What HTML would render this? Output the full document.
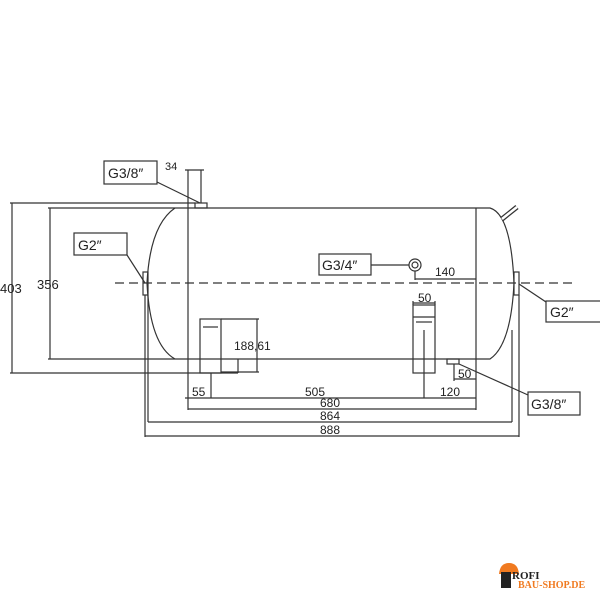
<!DOCTYPE html>
<html><head><style>body{margin:0;background:#fff}svg{display:block}</style></head><body>
<svg width="600" height="600" viewBox="0 0 600 600" xmlns="http://www.w3.org/2000/svg" font-family="Liberation Sans, sans-serif" font-size="13" fill="none" stroke="#333" stroke-width="1.2">
<!-- tank body -->
<line x1="175" y1="208" x2="476" y2="208"/>
<line x1="175" y1="359" x2="476" y2="359"/>
<path d="M175 208 Q150 225 147 283 Q150 345 175 359"/>
<path d="M476 208 L490 208 Q511 214 514 283 Q511 345 490 359 L476 359"/>
<line x1="476" y1="208" x2="476" y2="410"/>
<!-- hose -->
<line x1="502" y1="219" x2="517" y2="207" stroke-width="5" stroke="#333"/>
<line x1="502" y1="219" x2="517" y2="207" stroke-width="2.5" stroke="#fff"/>
<!-- centre line -->
<line x1="115" y1="283" x2="573" y2="283" stroke-dasharray="9,5"/>
<!-- flanges -->
<rect x="143" y="272" width="5" height="23"/>
<rect x="514" y="272" width="5" height="23"/>
<!-- top boss -->
<rect x="195" y="203" width="12" height="5"/>
<rect x="447" y="359" width="12" height="5"/>
<!-- outer dims -->
<line x1="10" y1="203" x2="195" y2="203"/>
<line x1="10" y1="373" x2="238" y2="373"/>
<line x1="12" y1="203" x2="12" y2="373"/>
<line x1="48" y1="208" x2="175" y2="208"/>
<line x1="48" y1="359" x2="175" y2="359"/>
<line x1="50" y1="208" x2="50" y2="359"/>
<!-- verticals -->
<line x1="188" y1="170" x2="188" y2="410"/>
<line x1="201" y1="170" x2="201" y2="203"/>
<line x1="185" y1="170" x2="204" y2="170"/>
<line x1="145" y1="295" x2="145" y2="437"/>
<line x1="148" y1="295" x2="148" y2="422"/>
<line x1="519" y1="295" x2="519" y2="437"/>
<line x1="512" y1="330" x2="512" y2="422"/>
<!-- horizontal dims -->
<line x1="185" y1="398" x2="476" y2="398"/>
<line x1="188" y1="409" x2="476" y2="409"/>
<line x1="148" y1="422" x2="512" y2="422"/>
<line x1="145" y1="436" x2="519" y2="436"/>
<!-- left foot -->
<rect x="200" y="319" width="21" height="54"/>
<line x1="203" y1="327" x2="218" y2="327"/>
<line x1="211" y1="373" x2="211" y2="398"/>
<line x1="221" y1="319" x2="259" y2="319"/>
<line x1="257" y1="319" x2="257" y2="372"/>
<line x1="238" y1="359" x2="238" y2="373"/>
<line x1="221" y1="372" x2="259" y2="372"/>
<!-- right foot -->
<rect x="413" y="305" width="22" height="68"/>
<line x1="413" y1="317" x2="435" y2="317"/>
<line x1="416" y1="322" x2="432" y2="322"/>
<line x1="424" y1="330" x2="424" y2="398"/>
<line x1="413" y1="305" x2="413" y2="301"/>
<line x1="435" y1="305" x2="435" y2="301"/>
<line x1="413" y1="303" x2="435" y2="303"/>
<!-- bottom boss dim -->
<line x1="454" y1="364" x2="454" y2="381"/>
<line x1="454" y1="379" x2="476" y2="379"/>
<!-- G3/4 -->
<circle cx="415" cy="265" r="6"/><circle cx="415" cy="265" r="3"/>
<line x1="371" y1="265" x2="409" y2="265"/>
<line x1="415" y1="271" x2="415" y2="280"/>
<line x1="415" y1="279" x2="476" y2="279"/>
<!-- labels -->
<rect x="104" y="161" width="53" height="23"/>
<line x1="157" y1="182" x2="200" y2="203"/>
<rect x="74" y="233" width="53" height="22"/>
<line x1="127" y1="255" x2="145" y2="283"/>
<rect x="319" y="254" width="52" height="21"/>
<rect x="546" y="301" width="60" height="21"/>
<line x1="519" y1="284" x2="546" y2="302"/>
<rect x="528" y="392" width="52" height="23"/>
<line x1="459" y1="364" x2="528" y2="395"/>
<g fill="#222" stroke="none">
<text x="108" y="178" font-size="14">G3/8″</text>
<text x="78" y="250" font-size="14">G2″</text>
<text x="322" y="270" font-size="14">G3/4″</text>
<text x="550" y="317" font-size="14">G2″</text>
<text x="531" y="409" font-size="14">G3/8″</text>
<text x="165" y="170" font-size="11">34</text>
<text x="0" y="293">403</text>
<text x="37" y="289">356</text>
<text x="234" y="350" font-size="12">188,61</text>
<text x="192" y="396" font-size="12">55</text>
<text x="305" y="396" font-size="12">505</text>
<text x="440" y="396" font-size="12">120</text>
<text x="320" y="407" font-size="12">680</text>
<text x="320" y="420" font-size="12">864</text>
<text x="320" y="434" font-size="12">888</text>
<text x="435" y="276" font-size="12">140</text>
<text x="418" y="302" font-size="12">50</text>
<text x="458" y="378" font-size="12">50</text>
</g>
<!-- logo -->
<path d="M499 574 Q500 563 509 563 Q518 563 519 574 Z" fill="#f07a20" stroke="none"/>
<rect x="501" y="572" width="10" height="16" fill="#222" stroke="none"/>
<g stroke="none" font-family="Liberation Serif, serif" font-weight="bold">
<text x="512" y="579" font-size="11" fill="#222">ROFI</text>
<text x="518" y="588" font-size="10" fill="#f07a20">BAU-SHOP.DE</text>
</g>
</svg>
</body></html>
